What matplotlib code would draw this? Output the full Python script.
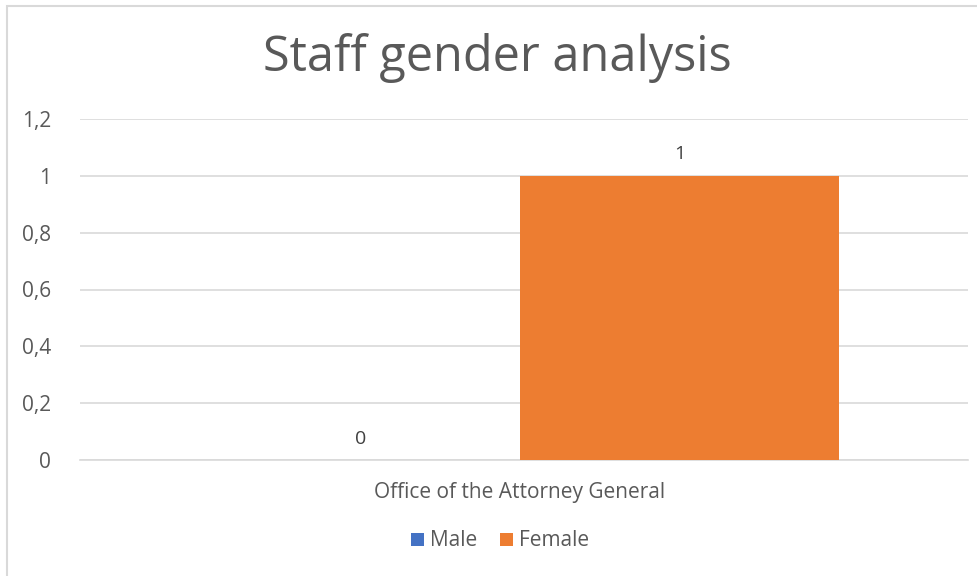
import numpy as np
import matplotlib.pyplot as plt
from matplotlib.patches import Rectangle

category = 'Office of the Attorney General'
series = ['Male', 'Female']
values = [0, 1]
colors = ['#4472C4', '#ED7D31']
y_ticks = [0, 0.2, 0.4, 0.6, 0.8, 1.0, 1.2]
y_tick_labels = ['0', '0,2', '0,4', '0,6', '0,8', '1', '1,2']

plt.rcParams['font.family'] = ['Open Sans', 'DejaVu Sans']

fig = plt.figure(figsize=(9.77, 5.76), dpi=100)
W, H = 977, 576
ax = fig.add_axes([80 / W, 1 - 460 / H, 888 / W, (460 - 119) / H])

# chart frame (right and bottom edges fall outside the picture)
fig.patches.append(Rectangle((7 / W, -0.1), 1.2, 1.1 - 6 / H, transform=fig.transFigure,
                             fill=False, edgecolor='#D9D9D9', lw=1.5))

width = 1.0
offsets = [-0.5, 0.5]
for name, v, c, off in zip(series, values, colors, offsets):
    bars = ax.bar(0 + off, v, width=width, color=c, label=name, zorder=3)
    ax.bar_label(bars, labels=[f'{v:g}'], padding=9, fontsize=14, color='#404040')

ax.set_xlim(-1.379, 1.405)
ax.set_ylim(0, 1.2)
ax.set_yticks(y_ticks)
ax.set_yticklabels(y_tick_labels, fontsize=15, color='#595959')
ax.set_xticks([0])
ax.set_xticklabels([category], fontsize=15, color='#595959')
ax.tick_params(axis='both', length=0)
ax.tick_params(axis='y', pad=21)
ax.tick_params(axis='x', pad=16)
ax.grid(axis='y', color='#D9D9D9', lw=1.2, zorder=0)
for s in ['top', 'right', 'left']:
    ax.spines[s].set_visible(False)
ax.spines['bottom'].set_color('#D9D9D9')
ax.spines['bottom'].set_linewidth(1.2)

fig.text(497 / W, 1 - 58 / H, 'Staff gender analysis', fontsize=35, color='#595959',
         ha='center', va='center')

fig.legend(loc='center', bbox_to_anchor=(500 / W, 1 - 541 / H), ncol=2, frameon=False,
           fontsize=15, labelcolor='#595959', handlelength=0.6, handleheight=0.6,
           handletextpad=0.3, columnspacing=1.1)

fig.savefig('out.png', dpi=100)
